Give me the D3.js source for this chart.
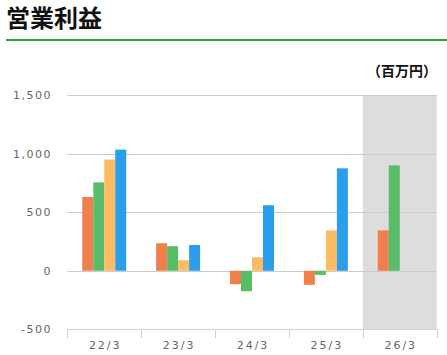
<!DOCTYPE html>
<html><head><meta charset="utf-8">
<script src="https://cdn.jsdelivr.net/npm/d3@7"></script>
<style>body{margin:0;background:#fff;}svg{display:block;}</style>
</head><body>
<svg id="c" width="447" height="355"></svg>
<script>
const categories = ["22/3","23/3","24/3","25/3","26/3"];
const seriesA = [630, 235, -115, -120, 345];
const seriesB = [755, 210, -175, -35, 900];
const seriesC = [950, 90, 115, 345, null];
const seriesD = [1035, 220, 560, 875, null];
const yTicks = [-500, 0, 500, 1000, 1500];
const colors = ["#f17f4c", "#58bd68", "#fbbc63", "#2a9deb"];
const series = [seriesA, seriesB, seriesC, seriesD];

const svg = d3.select("#c");
svg.append("text").attr("x", 6).attr("y", 27)
  .attr("font-family", "Noto Sans CJK JP").attr("font-weight", "bold")
  .attr("font-size", 24).attr("fill", "#111").text("営業利益");
svg.append("rect").attr("x", 6).attr("y", 39).attr("width", 441).attr("height", 2).attr("fill", "#2e9f3a");
svg.append("text").attr("x", 437).attr("y", 76).attr("text-anchor", "end")
  .attr("font-family", "Noto Sans CJK JP").attr("font-weight", "bold")
  .attr("font-size", 14).attr("fill", "#111").text("（百万円）");

const x0 = d3.scaleBand().domain(categories).range([67.3, 436.7]).paddingInner(0).paddingOuter(0);
const x1 = d3.scaleBand().domain([0,1,2,3]).range([0, x0.bandwidth()]).paddingInner(0).paddingOuter(1.36);
const y = d3.scaleLinear().domain([-500, 1500]).range([329.3, 95.2]);

// shaded forecast
svg.append("rect").attr("x", x0("26/3")).attr("y", y(1500)).attr("width", x0.bandwidth()).attr("height", y(-500) - y(1500)).attr("fill", "#dddddd");

// gridlines
svg.append("g").selectAll("line").data(yTicks.filter(d => d > -500)).join("line")
  .attr("x1", 67.3).attr("x2", 436.7).attr("y1", d => Math.round(y(d)) + 0.5).attr("y2", d => Math.round(y(d)) + 0.5)
  .attr("stroke", "#cccccc").attr("stroke-width", 1);

// y labels
svg.append("g").selectAll("text").data(yTicks).join("text")
  .attr("x", 52).attr("y", d => y(d) + 4).attr("text-anchor", "end")
  .attr("font-family", "DejaVu Sans").attr("font-size", 11).attr("letter-spacing", "1.5px")
  .attr("fill", "#666").text(d => d3.format(",")(d).replace("−", "-"));

// bars
const g = svg.append("g");
series.forEach((s, si) => {
  g.selectAll(null).data(s.map((v, i) => ({v, c: categories[i]})).filter(d => d.v !== null)).join("rect")
    .attr("x", d => x0(d.c) + x1(si))
    .attr("width", x1.bandwidth())
    .attr("y", d => y(Math.max(0, d.v)))
    .attr("height", d => Math.abs(y(d.v) - y(0)))
    .attr("fill", colors[si]);
});

// x axis
const xa = svg.append("g");
xa.append("line").attr("x1", 67.3).attr("x2", 436.7).attr("y1", 329.5).attr("y2", 329.5).attr("stroke", "#c8d2e0");
const tickPos = categories.map(c => x0(c)).concat([x0.range()[1]]);
xa.selectAll(".t").data(tickPos).join("line").attr("class","t")
  .attr("x1", d => Math.round(d)+0.5).attr("x2", d => Math.round(d)+0.5).attr("y1", 329).attr("y2", 338).attr("stroke", "#c8d2e0");
xa.selectAll("text").data(categories).join("text")
  .attr("x", d => x0(d) + x0.bandwidth()/2 + 1).attr("y", 349).attr("text-anchor", "middle")
  .attr("font-family", "DejaVu Sans").attr("font-size", 11).attr("letter-spacing", "2px")
  .attr("fill", "#666").text(d => d);
</script>
</body></html>
